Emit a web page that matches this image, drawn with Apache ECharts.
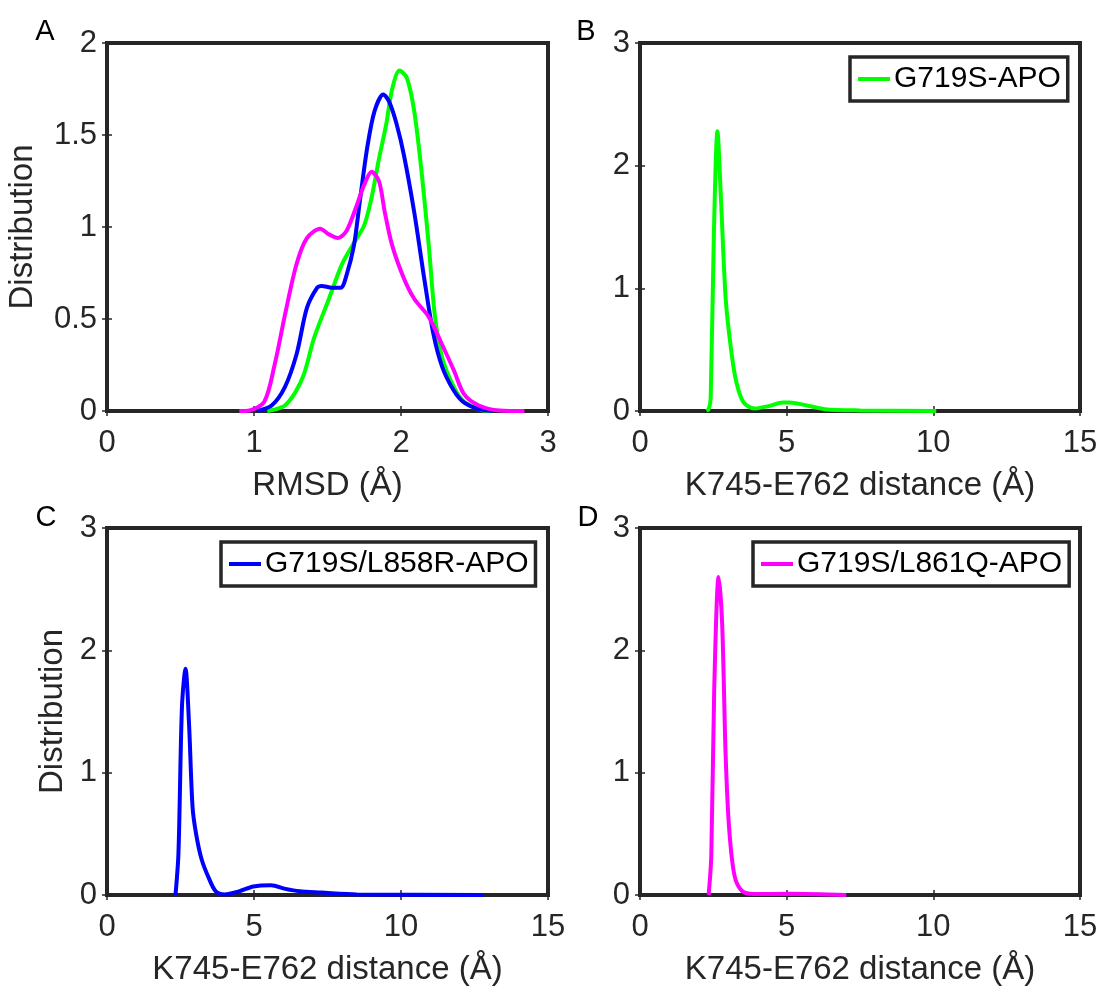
<!DOCTYPE html>
<html>
<head>
<meta charset="utf-8">
<script src="https://cdn.jsdelivr.net/npm/echarts@6/dist/echarts.min.js"></script>
<style>
html,body{margin:0;padding:0;background:#fff;}
#chart{width:1101px;height:987px;}
</style>
</head>
<body>
<div id="chart"></div>
<script>
// ---------- Data ----------
const panelLetters = ['A', 'B', 'C', 'D'];
const legendNames = ['G719S-APO', 'G719S/L858R-APO', 'G719S/L861Q-APO'];
const lineColors = ['#00FF00', '#0000FF', '#FF00FF'];

// Panel A: RMSD distributions
const rmsdGreenX = [1.09,1.15,1.21,1.28,1.34,1.41,1.51,1.6,1.7,1.75,1.8,1.85,1.9,1.94,1.99,2.04,2.09,2.14,2.19,2.23,2.28,2.36,2.43,2.55,2.62];
const rmsdGreenY = [0,0.01,0.03,0.1,0.2,0.4,0.61,0.8,0.94,1.01,1.16,1.37,1.56,1.75,1.85,1.81,1.63,1.3,0.89,0.52,0.29,0.13,0.05,0.005,0];
const rmsdBlueX = [1.02,1.12,1.21,1.29,1.36,1.43,1.46,1.53,1.59,1.63,1.68,1.72,1.77,1.82,1.88,1.92,1.97,2.02,2.09,2.16,2.22,2.28,2.36,2.43,2.53,2.62];
const rmsdBlueY = [0,0.03,0.13,0.31,0.56,0.67,0.68,0.67,0.67,0.74,0.9,1.14,1.43,1.63,1.72,1.68,1.56,1.39,1.08,0.71,0.42,0.24,0.11,0.045,0.01,0];
const rmsdMagentaX = [0.9,0.97,1.07,1.14,1.21,1.29,1.36,1.45,1.51,1.57,1.63,1.7,1.75,1.8,1.85,1.89,1.94,2.02,2.09,2.19,2.28,2.36,2.43,2.53,2.67,2.84];
const rmsdMagentaY = [0,0.003,0.05,0.25,0.52,0.8,0.94,0.99,0.96,0.94,0.98,1.12,1.23,1.3,1.25,1.08,0.9,0.72,0.61,0.51,0.36,0.22,0.09,0.03,0.003,0];

// Panel B: K745-E762 distance, G719S-APO
const distGreenX = [2.27,2.35,2.41,2.52,2.64,2.76,2.92,3.1,3.28,3.53,3.9,4.38,4.87,5.1,5.6,6.3,7.5,10.1];
const distGreenY = [0,0.02,0.11,1.46,2.28,1.73,0.92,0.51,0.24,0.07,0.02,0.04,0.07,0.07,0.05,0.015,0.005,0];
// Panel C: G719S/L858R-APO
const distBlueX = [2.33,2.43,2.55,2.67,2.79,2.91,3.03,3.22,3.46,3.7,4.0,4.49,4.98,5.58,6.07,6.55,7.28,8.5,12.8];
const distBlueY = [0,0.34,1.54,1.85,1.4,0.72,0.5,0.29,0.14,0.03,0.005,0.03,0.07,0.08,0.05,0.03,0.02,0.005,0];
// Panel D: G719S/L861Q-APO
const distMagentaX = [2.34,2.43,2.53,2.68,2.8,2.92,3.04,3.22,3.47,3.89,5.1,7.03];
const distMagentaY = [0,0.32,1.68,2.6,2.22,1.14,0.54,0.16,0.035,0.008,0.01,0];

// Axis settings
const rmsdXTicks = {min: 0, max: 3, interval: 1};
const rmsdYTicks = {min: 0, max: 2, interval: 0.5};
const distXTicks = {min: 0, max: 15, interval: 5};
const distYTicks = {min: 0, max: 3, interval: 1};
const xNames = ['RMSD (Å)', 'K745-E762 distance (Å)', 'K745-E762 distance (Å)', 'K745-E762 distance (Å)'];
const yNames = ['Distribution', '', 'Distribution', ''];

// ---------- Chart ----------
const FONT = "'Liberation Sans', Arial, Helvetica, sans-serif";
const AX = '#262626';
const zip = (xs, ys) => xs.map((x, i) => [x, ys[i]]);

const grids = [
  {left: 107, top: 43, width: 441, height: 368},
  {left: 640, top: 43, width: 440, height: 368},
  {left: 107, top: 528, width: 441, height: 367},
  {left: 640, top: 528, width: 440, height: 367}
];
const xTicks = [rmsdXTicks, distXTicks, distXTicks, distXTicks];
const yTicks = [rmsdYTicks, distYTicks, distYTicks, distYTicks];
const yNameGaps = [68, 38, 38, 38];

const xAxes = [], yAxes = [];
grids.forEach((g, i) => {
  const tickStyle = {show: true, inside: true, length: 5, lineStyle: {color: AX, width: 1.5}};
  xAxes.push({
    type: 'value', gridIndex: i, position: 'bottom',
    min: xTicks[i].min, max: xTicks[i].max, interval: xTicks[i].interval,
    axisLine: {show: false}, axisTick: tickStyle, splitLine: {show: false},
    axisLabel: {color: AX, fontSize: 31, fontFamily: FONT, margin: 17},
    name: xNames[i], nameLocation: 'middle', nameGap: 58,
    nameTextStyle: {color: AX, fontSize: 33, fontFamily: FONT}
  });
  xAxes.push({
    type: 'value', gridIndex: i, position: 'top',
    min: xTicks[i].min, max: xTicks[i].max, interval: xTicks[i].interval,
    axisLine: {show: false}, axisTick: tickStyle, splitLine: {show: false},
    axisLabel: {show: false}
  });
  yAxes.push({
    type: 'value', gridIndex: i, position: 'left',
    min: yTicks[i].min, max: yTicks[i].max, interval: yTicks[i].interval,
    axisLine: {show: false}, axisTick: tickStyle, splitLine: {show: false},
    axisLabel: {color: AX, fontSize: 31, fontFamily: FONT, margin: 10},
    name: yNames[i], nameLocation: 'middle', nameGap: yNameGaps[i],
    nameTextStyle: {color: AX, fontSize: 33, fontFamily: FONT}
  });
  yAxes.push({
    type: 'value', gridIndex: i, position: 'right',
    min: yTicks[i].min, max: yTicks[i].max, interval: yTicks[i].interval,
    axisLine: {show: false}, axisTick: tickStyle, splitLine: {show: false},
    axisLabel: {show: false}
  });
});

function line(name, color, data, gi) {
  return {
    type: 'line', name: name, xAxisIndex: gi * 2, yAxisIndex: gi * 2,
    data: data, showSymbol: false, symbol: 'none', smooth: 0.3,
    lineStyle: {color: color, width: 4}, itemStyle: {color: color},
    z: 3, silent: true, animation: false
  };
}

const series = [
  line(legendNames[0], lineColors[0], zip(rmsdGreenX, rmsdGreenY), 0),
  line(legendNames[1], lineColors[1], zip(rmsdBlueX, rmsdBlueY), 0),
  line(legendNames[2], lineColors[2], zip(rmsdMagentaX, rmsdMagentaY), 0),
  line(legendNames[0], lineColors[0], zip(distGreenX, distGreenY), 1),
  line(legendNames[1], lineColors[1], zip(distBlueX, distBlueY), 2),
  line(legendNames[2], lineColors[2], zip(distMagentaX, distMagentaY), 3)
];

const legendPos = [
  {left: 850, top: 57},
  {left: 221, top: 542},
  {left: 753, top: 542}
];
const legends = legendNames.map((n, i) => ({
  data: [n], left: legendPos[i].left, top: legendPos[i].top,
  orient: 'horizontal', icon: 'rect', itemWidth: 32, itemHeight: 4,
  padding: [7, 7, 7, 8], borderColor: AX, borderWidth: 3.5, borderRadius: 0,
  backgroundColor: '#fff', selectedMode: false,
  textStyle: {color: '#000', fontSize: 30, fontFamily: FONT, padding: [0, 0, 0, -1]}
}));

const letterPos = [[45, 32], [586, 32], [46, 518], [588, 518]];
const graphic = panelLetters.map((t, i) => ({
  type: 'text', x: letterPos[i][0], y: letterPos[i][1], silent: true,
  style: {text: t, fill: '#000', fontSize: 29, fontFamily: FONT, align: 'center', verticalAlign: 'middle'}
}));

const chart = echarts.init(document.getElementById('chart'), null, {renderer: 'canvas'});
chart.setOption({
  backgroundColor: '#fff',
  animation: false,
  grid: grids.map(g => Object.assign({show: true, borderColor: AX, borderWidth: 4, backgroundColor: 'transparent'}, g)),
  xAxis: xAxes,
  yAxis: yAxes,
  legend: legends,
  graphic: graphic,
  series: series
});
</script>
</body>
</html>
